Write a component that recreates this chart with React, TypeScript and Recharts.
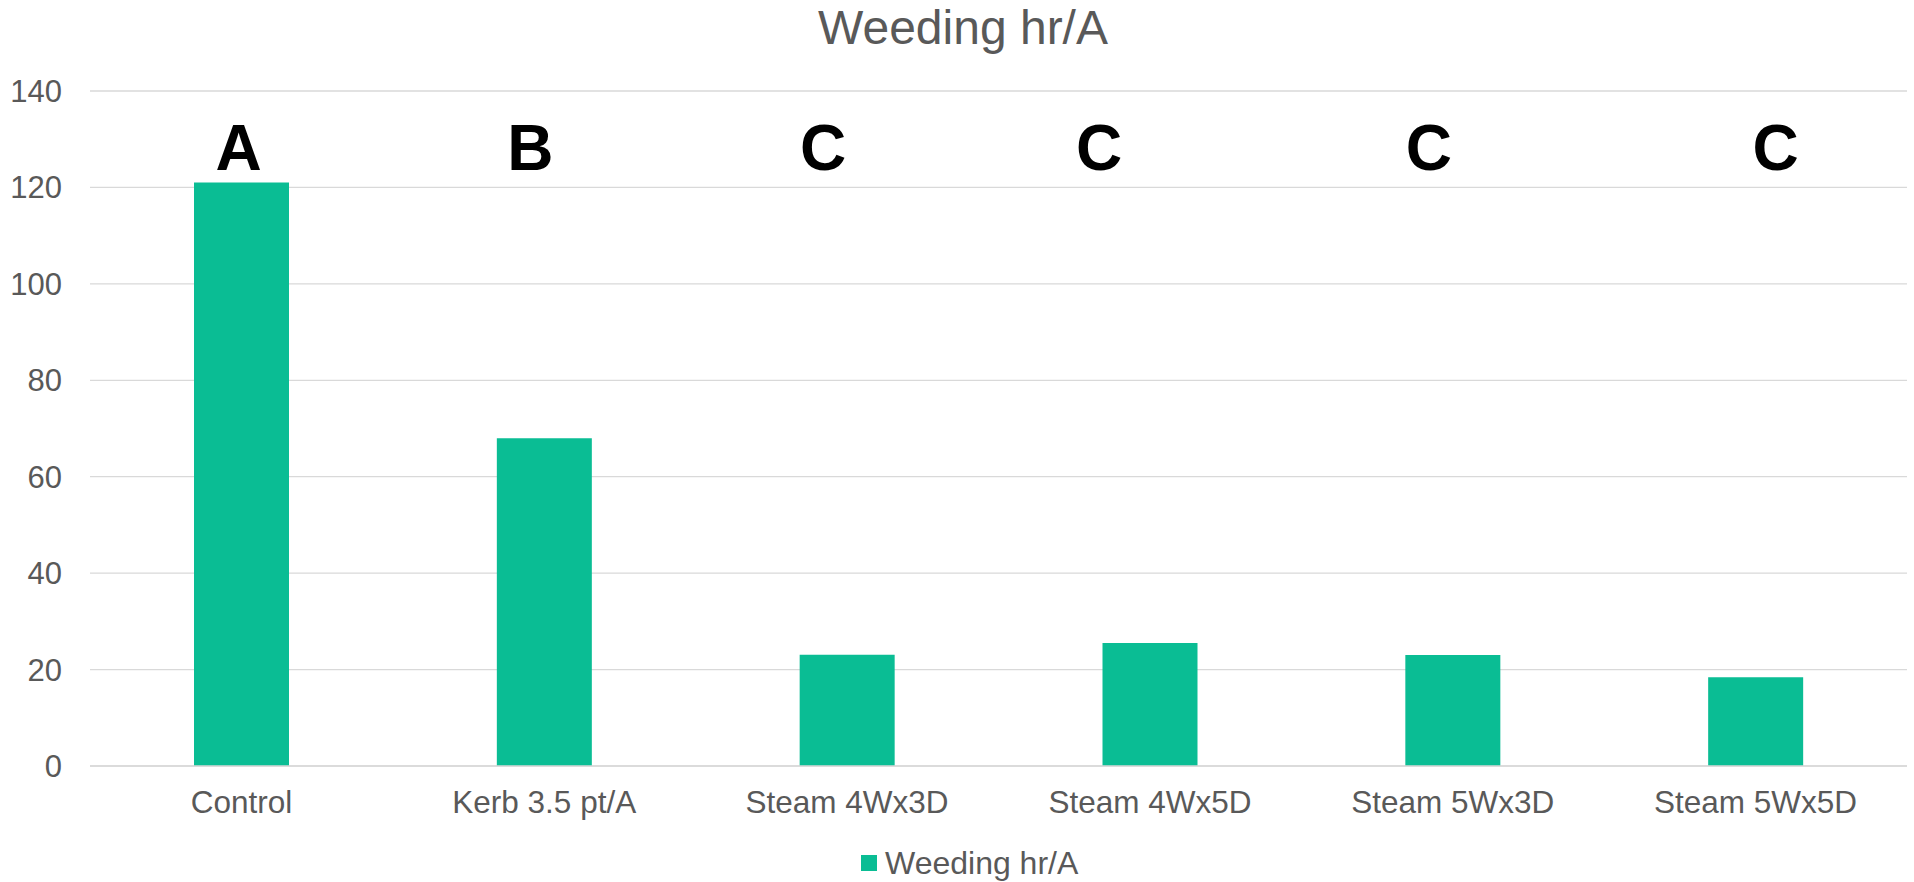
import React from 'react';
import { BarChart, Bar, XAxis, YAxis, CartesianGrid, Legend, LabelList } from 'recharts';

const treatments = ['Control', 'Kerb 3.5 pt/A', 'Steam 4Wx3D', 'Steam 4Wx5D', 'Steam 5Wx3D', 'Steam 5Wx5D'];
const weedingHours = [121, 68, 23.1, 25.5, 23, 18.4];
const groupLetters = ['A', 'B', 'C', 'C', 'C', 'C'];
const yTicks = [0, 20, 40, 60, 80, 100, 120, 140];

// letters sit in hand-placed text boxes, not exactly over the bar centres
const letterNudge = [-3, -14, -24, -51, -24, 20];

const FONT = '"Liberation Sans", Arial, sans-serif';
const TEXT_GRAY = '#595959';
const BAR_COLOR = '#0ABD94';

const chartData = treatments.map((name, i) => ({
  name,
  hours: weedingHours[i],
  letter: groupLetters[i],
}));

const LetterLabel = (props: any) => {
  const { x, y, width, height, index } = props;
  const bottom = y + height;
  return (
    <text
      x={x + width / 2 + letterNudge[index]}
      y={bottom - 596}
      textAnchor="middle"
      fontFamily={FONT}
      fontWeight="bold"
      fontSize={64}
      fill="#000000"
    >
      {groupLetters[index]}
    </text>
  );
};

const LegendContent = () => (
  <div style={{ display: 'flex', alignItems: 'center', fontFamily: FONT, fontSize: 32, color: TEXT_GRAY, height: 30 }}>
    <span style={{ display: 'inline-block', width: 16, height: 16, background: BAR_COLOR, marginRight: 8 }} />
    <span>Weeding hr/A</span>
  </div>
);

export default function App() {
  return (
    <div style={{ position: 'absolute', left: 0, top: 0, width: 1914, height: 882, background: '#fff' }}>
      <div
        style={{
          position: 'absolute',
          left: 0,
          top: 4,
          width: 1926,
          textAlign: 'center',
          fontFamily: FONT,
          fontSize: 48,
          lineHeight: '48px',
          color: TEXT_GRAY,
        }}
      >
        Weeding hr/A
      </div>
      <BarChart
        width={1914}
        height={882}
        data={chartData}
        margin={{ top: 91, right: 7, left: 0, bottom: 86 }}
        barSize={95}
      >
        <CartesianGrid vertical={false} stroke="#D9D9D9" strokeWidth={1.3} />
        <XAxis
          dataKey="name"
          height={30}
          axisLine={{ stroke: '#D9D9D9', strokeWidth: 1.3 }}
          tickLine={false}
          tickSize={0}
          tickMargin={25}
          interval={0}
          tick={{ fontSize: 31.5, fill: TEXT_GRAY, fontFamily: FONT }}
        />
        <YAxis
          width={90}
          domain={[0, 140]}
          ticks={yTicks}
          axisLine={false}
          tickLine={false}
          tickSize={0}
          tickMargin={28}
          tick={{ fontSize: 31, fill: TEXT_GRAY, fontFamily: FONT }}
        />
        <Legend
          verticalAlign="middle"
          content={<LegendContent />}
          wrapperStyle={{ position: 'absolute', left: 861, top: 848, width: 'auto', height: 30 }}
        />
        <Bar dataKey="hours" name="Weeding hr/A" fill={BAR_COLOR} isAnimationActive={false}>
          <LabelList dataKey="letter" content={<LetterLabel />} />
        </Bar>
      </BarChart>
    </div>
  );
}
